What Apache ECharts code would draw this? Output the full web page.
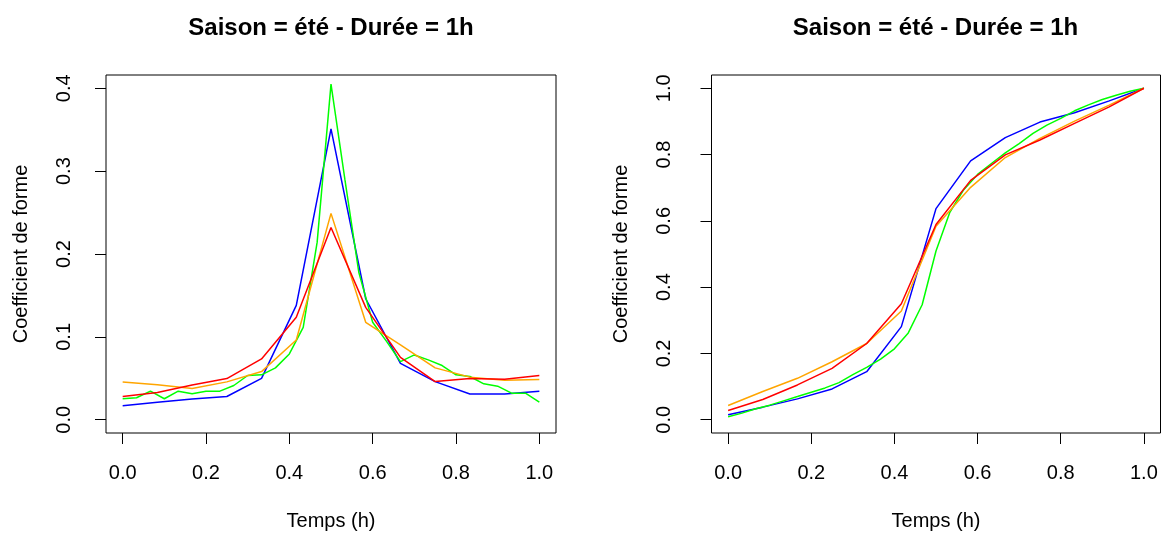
<!DOCTYPE html>
<html>
<head>
<meta charset="utf-8">
<script src="https://cdn.jsdelivr.net/npm/echarts@6/dist/echarts.min.js"></script>
<style>
html,body{margin:0;padding:0;background:#fff;}
#chart{width:1162px;height:536px;}
</style>
</head>
<body>
<div id="chart"></div>
<script>
// ---- Data ----
const titleText = 'Saison = été - Durée = 1h';
const xAxisName = 'Temps (h)';
const yAxisName = 'Coefficient de forme';

const t12 = [0, 0.0833, 0.1667, 0.25, 0.3333, 0.4167, 0.5, 0.5833, 0.6667, 0.75, 0.8333, 0.9167, 1];
const t30 = [0, 0.0333, 0.0667, 0.1, 0.1333, 0.1667, 0.2, 0.2333, 0.2667, 0.3, 0.3333, 0.3667, 0.4, 0.4333, 0.4667, 0.5,
             0.5333, 0.5667, 0.6, 0.6333, 0.6667, 0.7, 0.7333, 0.7667, 0.8, 0.8333, 0.8667, 0.9, 0.9333, 0.9667, 1];

// Left panel (shape coefficient)
const leftBlue   = [0.017, 0.021, 0.025, 0.028, 0.050, 0.138, 0.351, 0.146, 0.068, 0.046, 0.031, 0.031, 0.0345];
const leftGreen  = [0.0253, 0.0265, 0.0345, 0.0253, 0.0345, 0.0313, 0.0345, 0.0345, 0.0413, 0.0534, 0.0542, 0.0626, 0.0794, 0.1115, 0.214, 0.405,
                    0.290, 0.178, 0.1176, 0.0945, 0.0702, 0.0782, 0.0722, 0.0654, 0.0542, 0.0522, 0.0433, 0.0405, 0.0321, 0.0321, 0.0213];
const leftOrange = [0.0454, 0.0421, 0.0377, 0.0457, 0.0581, 0.0963, 0.249, 0.1176, 0.0903, 0.0626, 0.0514, 0.0477, 0.0485];
const leftRed    = [0.028, 0.0329, 0.042, 0.0497, 0.0734, 0.1236, 0.232, 0.1356, 0.0752, 0.046, 0.0497, 0.049, 0.0534];

// Right panel (cumulative)
const rightBlue   = [0.015, 0.038, 0.063, 0.093, 0.145, 0.281, 0.637, 0.781, 0.851, 0.898, 0.926, 0.962, 1.0];
const rightGreen  = [0.009, 0.020, 0.033, 0.044, 0.057, 0.070, 0.083, 0.096, 0.112, 0.136, 0.158, 0.183, 0.214, 0.262, 0.347, 0.509,
                     0.626, 0.694, 0.740, 0.773, 0.805, 0.833, 0.864, 0.889, 0.909, 0.932, 0.950, 0.966, 0.979, 0.991, 1.0];
const rightOrange = [0.043, 0.085, 0.125, 0.175, 0.230, 0.328, 0.584, 0.701, 0.791, 0.849, 0.901, 0.949, 1.0];
const rightRed    = [0.028, 0.061, 0.105, 0.155, 0.230, 0.350, 0.589, 0.722, 0.799, 0.844, 0.894, 0.944, 1.0];

const xTicks = [0, 0.2, 0.4, 0.6, 0.8, 1.0];
const xTickLabels = ['0.0', '0.2', '0.4', '0.6', '0.8', '1.0'];
const yTicksLeft = [0, 0.1, 0.2, 0.3, 0.4];
const yTickLabelsLeft = ['0.0', '0.1', '0.2', '0.3', '0.4'];
const yTicksRight = [0, 0.2, 0.4, 0.6, 0.8, 1.0];
const yTickLabelsRight = ['0.0', '0.2', '0.4', '0.6', '0.8', '1.0'];

// axis extents (data range with R's 4% padding)
const xRange = [-0.04, 1.04];
const yRangeLeft = [-0.016, 0.416];
const yRangeRight = [-0.04, 1.04];

const colors = { blue: '#0000FF', green: '#00FF00', orange: '#FFA500', red: '#FF0000' };

// ---- Helpers ----
const FONT = '"Liberation Sans", Arial, Helvetica, sans-serif';
function pairs(xs, ys) { return xs.map((x, i) => [x, ys[i]]); }
function lookup(ticks, labels) {
  return function (v) {
    for (let i = 0; i < ticks.length; i++) if (Math.abs(ticks[i] - v) < 1e-6) return labels[i];
    return '';
  };
}
function xAx(gi) {
  return {
    type: 'value', gridIndex: gi, min: xRange[0], max: xRange[1],
    axisLine: { show: false, onZero: false },
    axisTick: { show: true, inside: false, length: 11, customValues: xTicks, lineStyle: { color: '#000', width: 1 } },
    splitLine: { show: false },
    axisLabel: { customValues: xTicks, margin: 40, verticalAlign: 'middle', color: '#000', fontSize: 20, fontFamily: FONT,
                 formatter: lookup(xTicks, xTickLabels) },
    name: xAxisName, nameLocation: 'middle', nameGap: 88,
    nameTextStyle: { color: '#000', fontSize: 20, fontFamily: FONT, verticalAlign: 'middle' }
  };
}
function yAx(gi, range, ticks, labels, margin, gap) {
  return {
    type: 'value', gridIndex: gi, min: range[0], max: range[1],
    axisLine: { show: false, onZero: false },
    axisTick: { show: true, inside: false, length: 11, customValues: ticks, lineStyle: { color: '#000', width: 1 } },
    splitLine: { show: false },
    axisLabel: { customValues: ticks, rotate: 90, margin: margin, verticalAlign: 'middle', align: 'center',
                 color: '#000', fontSize: 20, fontFamily: FONT, formatter: lookup(ticks, labels) },
    name: yAxisName, nameLocation: 'middle', nameGap: gap,
    nameTextStyle: { color: '#000', fontSize: 20, fontFamily: FONT, verticalAlign: 'middle' }
  };
}
function line(gi, xs, ys, color) {
  return {
    type: 'line', xAxisIndex: gi, yAxisIndex: gi, data: pairs(xs, ys),
    showSymbol: false, symbol: 'none', clip: true, animation: false,
    lineStyle: { color: color, width: 1.5 }, itemStyle: { color: color }
  };
}

const chart = echarts.init(document.getElementById('chart'), null, { renderer: 'canvas' });
chart.setOption({
  animation: false,
  backgroundColor: '#fff',
  title: [
    { text: titleText, left: 331, top: 28, textAlign: 'center', textVerticalAlign: 'middle', padding: 0,
      textStyle: { fontSize: 24, fontWeight: 'bold', color: '#000', fontFamily: FONT } },
    { text: titleText, left: 935.5, top: 28, textAlign: 'center', textVerticalAlign: 'middle', padding: 0,
      textStyle: { fontSize: 24, fontWeight: 'bold', color: '#000', fontFamily: FONT } }
  ],
  grid: [
    { left: 106, top: 75, width: 450, height: 360, show: true, borderColor: '#000', borderWidth: 1, backgroundColor: 'transparent', containLabel: false },
    { left: 711.5, top: 75, width: 449, height: 360, show: true, borderColor: '#000', borderWidth: 1, backgroundColor: 'transparent', containLabel: false }
  ],
  xAxis: [xAx(0), xAx(1)],
  yAxis: [
    yAx(0, yRangeLeft, yTicksLeft, yTickLabelsLeft, 42, 85),
    yAx(1, yRangeRight, yTicksRight, yTickLabelsRight, 47, 90)
  ],
  series: [
    line(0, t12, leftBlue, colors.blue),
    line(0, t30, leftGreen, colors.green),
    line(0, t12, leftOrange, colors.orange),
    line(0, t12, leftRed, colors.red),
    line(1, t12, rightBlue, colors.blue),
    line(1, t30, rightGreen, colors.green),
    line(1, t12, rightOrange, colors.orange),
    line(1, t12, rightRed, colors.red)
  ]
});
</script>
</body>
</html>
